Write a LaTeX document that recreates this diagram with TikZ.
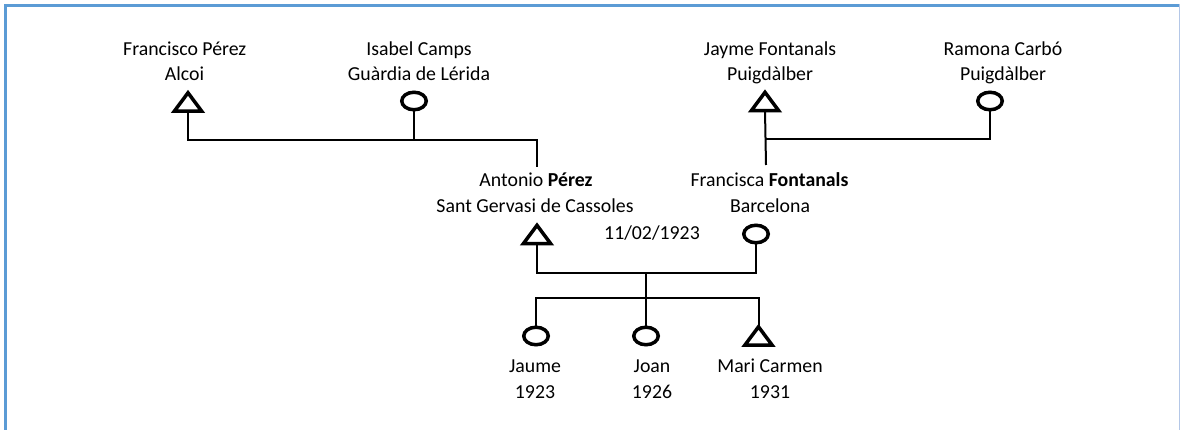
\documentclass[tikz,border=0pt]{standalone}
\usepackage{fontspec}
\setmainfont{Carlito}
\usetikzlibrary{shapes.geometric}
\definecolor{frameblue}{HTML}{5B9BD5}
\definecolor{framelight}{HTML}{B4C7E7}
\begin{document}
\begin{tikzpicture}[x=1pt,y=-1pt,
  txt/.style={inner sep=0pt, anchor=base, font=\fontsize{19.8}{26}\selectfont},
  fem/.style={ellipse, draw, line width=3.5pt, minimum width=24.5pt, minimum height=17.5pt, inner sep=0pt},
  malebox/.style={inner sep=0pt, minimum width=27pt, minimum height=18pt},
  tri/.style={line width=3.5pt, line join=miter},
  conn/.style={line width=2pt}]
\useasboundingbox (0,0) rectangle (1180,430);
\fill[white] (0,0) rectangle (1180,430);
% frame
\fill[frameblue] (4,4) rectangle (1180,7.3);
\fill[frameblue] (4,4) rectangle (7.3,430);
\draw[framelight, line width=1pt] (1179,4) -- (1179,430);

% texts
\node[txt] (fpn) at (184.7,56) {Francisco Pérez};
\node[txt] (fpp) at (184.5,81) {Alcoi};
\node[txt] (icn) at (419,55.5) {Isabel Camps};
\node[txt] (icp) at (419,81) {Guàrdia de Lérida};
\node[txt] (jfn) at (770,55.5) {Jayme Fontanals};
\node[txt] (jfp) at (770,81) {Puigdàlber};
\node[txt] (rcn) at (1003,55.5) {Ramona Carbó};
\node[txt] (rcp) at (1003,81) {Puigdàlber};
\node[txt] (apn) at (536,187) {Antonio \textbf{Pérez}};
\node[txt] (app) at (535,213) {Sant Gervasi de Cassoles};
\node[txt] (ffn) at (769.5,187) {Francisca \textbf{Fontanals}};
\node[txt] (ffp) at (770,213) {Barcelona};
\node[txt] (date) at (652,240) {11/02/1923};
\node[txt] (jan) at (535,372) {Jaume};
\node[txt] (jay) at (535,398) {1923};
\node[txt] (jon) at (652,372) {Joan};
\node[txt] (joy) at (652,398) {1926};
\node[txt] (mcn) at (770,372) {Mari Carmen};
\node[txt] (mcy) at (770,398) {1931};

% symbols
\node[malebox] (fp) at (188,102) {};
\node[fem] (ic) at (414,101) {};
\node[malebox] (jf) at (765,101.5) {};
\node[fem] (rc) at (990,101) {};
\node[malebox] (ap) at (537,234.5) {};
\node[fem] (fc) at (756,234) {};
\node[fem] (ja) at (536,336) {};
\node[fem] (jo) at (646,336) {};
\node[malebox] (mc) at (758.5,336) {};

\foreach \t in {fp,jf,ap,mc}{
  \draw[tri] (\t.north) -- (\t.south east) -- (\t.south west) -- cycle;
}

% connector points
\coordinate (m1) at (537,140);
\coordinate (a1) at (537,167);
\coordinate (m2) at (766,139);
\coordinate (f1) at (766,165);
\coordinate (m3) at (646,273);
\coordinate (k1) at (646,298);

% connectors
\draw[conn] (fp.south) |- (m1) -- (a1);
\draw[conn] (ic.south) -- (ic.south |- m1);
\draw[conn] (jf.south) -- (f1);
\draw[conn] (rc.south) |- (m2);
\draw[conn] (ap.south) |- (m3) -| (fc.south);
\draw[conn] (m3) -- (k1);
\draw[conn] (ja.north) |- (k1) -| (mc.north);
\draw[conn] (k1) -- (jo.north);
\end{tikzpicture}
\end{document}
